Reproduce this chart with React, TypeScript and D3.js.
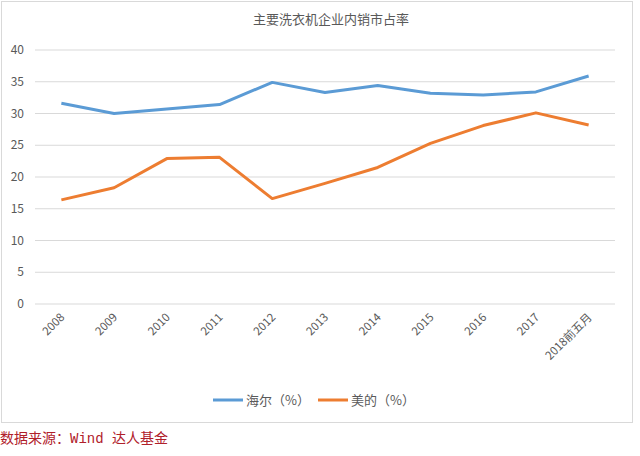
import React from "react";
import * as d3 from "d3";

const categories = ["2008", "2009", "2010", "2011", "2012", "2013", "2014", "2015", "2016", "2017", "2018前五月"];
const haier = [31.6, 30.0, 30.7, 31.4, 34.9, 33.3, 34.4, 33.2, 32.9, 33.4, 35.9];
const midea = [16.4, 18.3, 22.9, 23.1, 16.6, 19.0, 21.5, 25.3, 28.1, 30.1, 28.2];
const yTicks = [0, 5, 10, 15, 20, 25, 30, 35, 40];
const seriesNames = ["海尔（%）", "美的（%）"];
const colors = ["#5b9bd5", "#ed7d31"];

const W = 640, H = 456;
const left = 35, right = 615, top = 50, bottom = 304;
const font = "'Noto Sans CJK SC', 'Noto Sans', sans-serif";

export default function App() {
  const x = d3.scalePoint<string>().domain(categories).range([left, right]).padding(0.5);
  const y = d3.scaleLinear().domain([0, 40]).range([bottom, top]);
  const line = d3.line<number>().x((_, i) => x(categories[i])!).y((d) => y(d));
  const series = [haier, midea];
  return (
    <svg width={W} height={H} style={{ position: "absolute", left: 0, top: 0, background: "#fff" }}>
      <rect x={1.5} y={1.5} width={631} height={421} fill="#fff" stroke="#d9d9d9" />
      <text x={331} y={24} textAnchor="middle" fontFamily={font} fontSize={13} fill="#595959">主要洗衣机企业内销市占率</text>
      {yTicks.map((t) => (
        <g key={t}>
          <line x1={left} x2={right} y1={y(t)} y2={y(t)} stroke="#d9d9d9" strokeWidth={1} />
          <text x={24} y={y(t) + 4} textAnchor="end" fontFamily={font} fontSize={12} fill="#595959">{t}</text>
        </g>
      ))}
      {categories.map((c) => (
        <text key={c} transform={`translate(${x(c)! + 4},${bottom + 14}) rotate(-45)`} textAnchor="end" fontFamily={font} fontSize={11.5} fill="#595959">{c}</text>
      ))}
      {series.map((s, i) => (
        <path key={i} d={line(s)!} fill="none" stroke={colors[i]} strokeWidth={3} strokeLinejoin="round" />
      ))}
      {seriesNames.map((n, i) => (
        <g key={n} transform={`translate(${213 + i * 105},400)`}>
          <line x1={0} x2={30} y1={0} y2={0} stroke={colors[i]} strokeWidth={3} />
          <text x={33} y={5} fontFamily={font} fontSize={13} fill="#595959">{n}</text>
        </g>
      ))}
      <text x={0} y={443} fontSize={14} fill="#b0202a" fontFamily="'Noto Sans CJK SC', sans-serif">
        数据来源：<tspan fontFamily="'Liberation Mono', monospace">Wind </tspan>达人基金
      </text>
    </svg>
  );
}
